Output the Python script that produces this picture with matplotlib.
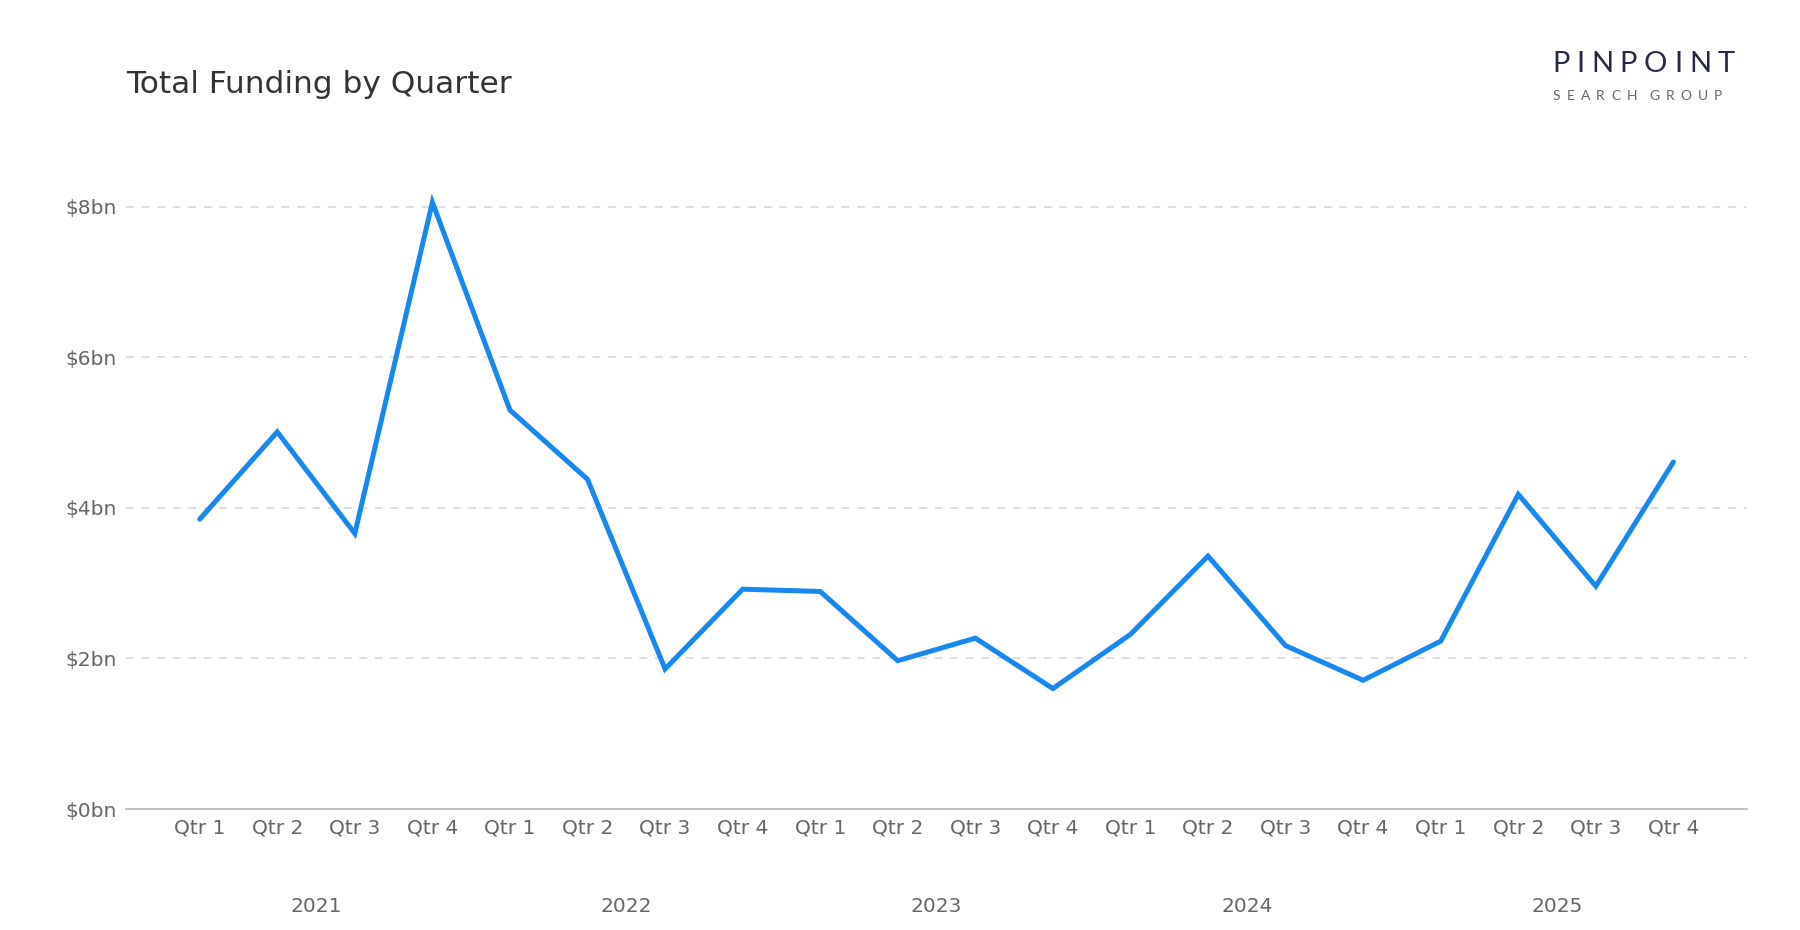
import matplotlib
matplotlib.use("Agg")
import matplotlib.pyplot as plt
import matplotlib.transforms as mtransforms

# quarterly total funding, $bn
quarters = ["Qtr 1", "Qtr 2", "Qtr 3", "Qtr 4"] * 5
years = ["2021", "2022", "2023", "2024", "2025"]
funding = [3.85, 5.01, 3.66, 8.06,
           5.30, 4.38, 1.86, 2.92,
           2.89, 1.97, 2.27, 1.60,
           2.32, 3.36, 2.17, 1.71,
           2.23, 4.18, 2.96, 4.61]
yticks = [0, 2, 4, 6, 8]
ytick_labels = ["$0bn", "$2bn", "$4bn", "$6bn", "$8bn"]

fig = plt.figure(figsize=(18, 9.3), dpi=100)
ax = fig.add_axes([0.07, 0.1301, 0.9006, 0.7204])

x = list(range(len(funding)))
ax.plot(x, funding, color="#1589F0", lw=3.6, solid_joinstyle="miter",
        solid_capstyle="round", zorder=3)

ax.set_xlim(-0.95, len(funding) - 1 + 0.95)
ax.set_ylim(0, 8.9)
ax.set_xticks(x)
ax.set_xticklabels(quarters)
ax.set_yticks(yticks)
ax.set_yticklabels(ytick_labels)
ax.tick_params(axis="both", length=0, labelsize=14.5, labelcolor="#666666")
ax.tick_params(axis="x", pad=7)
ax.tick_params(axis="y", pad=7)

for v in yticks[1:]:
    ax.axhline(v, color="#DDDDDD", lw=1.4, ls=(0, (4, 4)), zorder=1)

for s in ["top", "right", "left"]:
    ax.spines[s].set_visible(False)
ax.spines["bottom"].set_color("#BBBBBB")
ax.spines["bottom"].set_linewidth(1.3)

# year labels centred under each group of 4 quarters
trans = mtransforms.blended_transform_factory(ax.transData, ax.transAxes)
for i, yr in enumerate(years):
    ax.text(i * 4 + 1.5, -0.146, yr, transform=trans, ha="center", va="center",
            fontsize=14.5, color="#666666")

fig.text(0.07, 0.9, "Total Funding by Quarter", fontsize=22.5, color="#333333",
         ha="left", va="baseline")


def tracked(s, x0, x1, y, **kw):
    # spread characters across a fixed pixel width (letter spacing)
    r = fig.canvas.get_renderer()
    ts = [fig.text(0, y, c, ha="left", va="baseline", **kw) for c in s]
    ws = [t.get_window_extent(r).width if c != " " else 0 for t, c in zip(ts, s)]
    gap = (x1 - x0 - sum(ws)) / (len(s) - 1)
    pos = x0
    for t, w in zip(ts, ws):
        t.set_x(pos / 1800)
        pos += w + gap


tracked("PINPOINT", 1552, 1735, 1 - 72 / 930, fontsize=21, color="#262848",
        family="Lato", fontweight="normal")
tracked("SEARCH GROUP", 1553, 1722, 1 - 100 / 930, fontsize=10, color="#666666",
        family="Lato", fontweight="normal")

fig.savefig("out.png", dpi=100, facecolor="white")
